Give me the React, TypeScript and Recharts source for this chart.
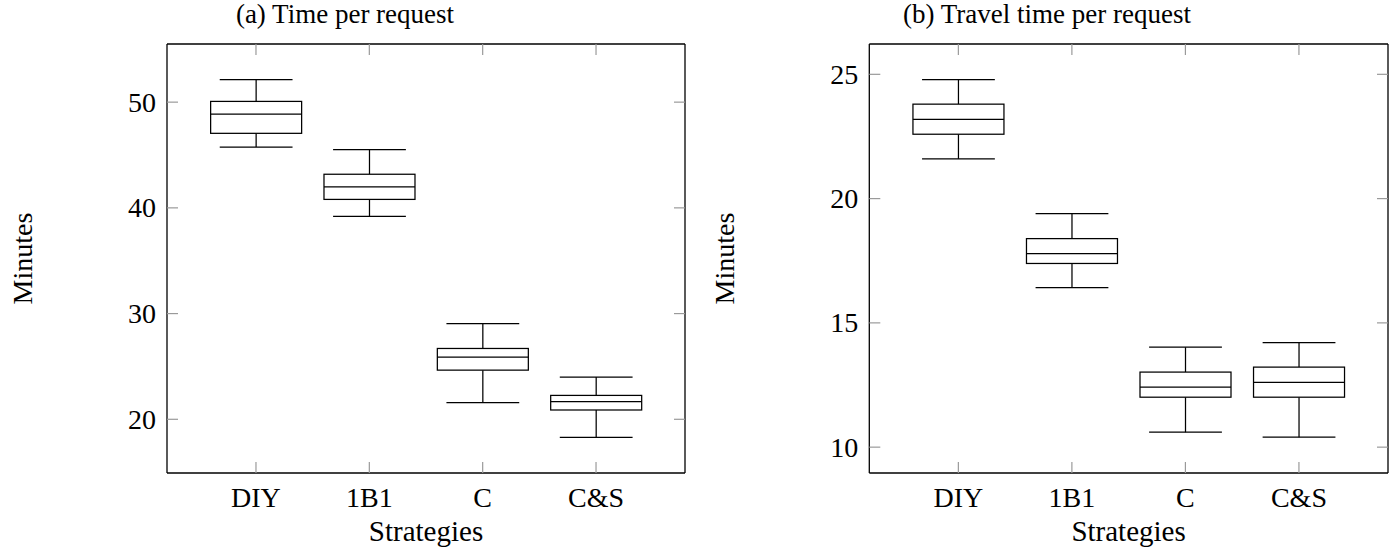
import { ComposedChart, Bar, Line, XAxis, YAxis } from 'recharts';

const strategies = ['DIY', '1B1', 'C', 'C&S'];

// (a) Time per request, minutes
const timeLow = [45.75, 39.2, 21.57, 18.3];
const timeQ1 = [47.05, 40.8, 24.65, 20.88];
const timeMedian = [48.87, 41.98, 25.88, 21.66];
const timeQ3 = [50.07, 43.18, 26.7, 22.26];
const timeHigh = [52.14, 45.5, 29.06, 23.99];
const timeTicks = [20, 30, 40, 50];

// (b) Travel time per request, minutes
const travelLow = [21.6, 16.42, 10.6, 10.4];
const travelQ1 = [22.59, 17.39, 12.01, 12.01];
const travelMedian = [23.19, 17.79, 12.41, 12.61];
const travelQ3 = [23.8, 18.39, 13.02, 13.22];
const travelHigh = [24.79, 19.4, 14.02, 14.21];
const travelTicks = [10, 15, 20, 25];

const FONT = 'Liberation Serif, DejaVu Serif, serif';
const TICK_GRAY = '#9a9a9a';
const TICK_LEN = 11;

const buildRows = (low: number[], q1: number[], med: number[], q3: number[], high: number[]) =>
  strategies.map((name, i) => ({
    name,
    low: low[i],
    q1: q1[i],
    median: med[i],
    q3: q3[i],
    high: high[i],
    box: [q1[i], q3[i]],
  }));

const timeRows = buildRows(timeLow, timeQ1, timeMedian, timeQ3, timeHigh);
const travelRows = buildRows(travelLow, travelQ1, travelMedian, travelQ3, travelHigh);

// box drawn from the bar's [q1, q3] rectangle; whiskers use the same pixel scale
function BoxShape(props: any) {
  const { x, y, width, height, payload } = props;
  const ppu = height / (payload.q3 - payload.q1);
  const py = (v: number) => y + (payload.q3 - v) * ppu;
  const cx = x + width / 2;
  const cap = (width * 0.8) / 2;
  const s = { stroke: '#000', strokeWidth: 1.25, fill: 'none' };
  return (
    <g>
      <line x1={cx} x2={cx} y1={py(payload.high)} y2={y} {...s} />
      <line x1={cx} x2={cx} y1={y + height} y2={py(payload.low)} {...s} />
      <line x1={cx - cap} x2={cx + cap} y1={py(payload.high)} y2={py(payload.high)} {...s} />
      <line x1={cx - cap} x2={cx + cap} y1={py(payload.low)} y2={py(payload.low)} {...s} />
      <rect x={x} y={y} width={width} height={height} {...s} fill="#fff" />
      <line x1={x} x2={x + width} y1={py(payload.median)} y2={py(payload.median)} {...s} />
    </g>
  );
}

const BottomTick = (p: any) => (
  <g>
    <line x1={p.x} x2={p.x} y1={p.y} y2={p.y - TICK_LEN} stroke={TICK_GRAY} strokeWidth={1.2} />
    <text x={p.x} y={p.y + 34} textAnchor="middle" style={{ fontFamily: FONT }} fontSize={28} fill="#000">
      {p.payload.value}
    </text>
  </g>
);

const TopTick = (p: any) => (
  <line x1={p.x} x2={p.x} y1={p.y} y2={p.y + TICK_LEN} stroke={TICK_GRAY} strokeWidth={1.2} />
);

const LeftTick = (p: any) => (
  <g>
    <line x1={p.x} x2={p.x + TICK_LEN} y1={p.y} y2={p.y} stroke={TICK_GRAY} strokeWidth={1.2} />
    <text x={p.x - 11} y={p.y + 9.5} textAnchor="end" style={{ fontFamily: FONT }} fontSize={28} fill="#000">
      {p.payload.value}
    </text>
  </g>
);

const RightTick = (p: any) => (
  <line x1={p.x} x2={p.x - TICK_LEN} y1={p.y} y2={p.y} stroke={TICK_GRAY} strokeWidth={1.2} />
);

const axisLine = { stroke: '#000', strokeWidth: 1.3 };

function BoxPlot({ rows, domain, ticks, yWidth, rightMargin }: any) {
  return (
    <ComposedChart
      width={700}
      height={551}
      data={rows}
      margin={{ top: 43, right: rightMargin, bottom: 0, left: 0 }}
      barCategoryGap="10%"
    >
      <XAxis
        xAxisId="b"
        dataKey="name"
        type="category"
        orientation="bottom"
        height={78}
        padding={{ left: 32.3, right: 32.3 }}
        interval={0}
        tickSize={0}
        tickMargin={0}
        tickLine={false}
        axisLine={axisLine}
        tick={BottomTick}
      />
      <XAxis
        xAxisId="t"
        dataKey="name"
        type="category"
        orientation="top"
        height={1}
        padding={{ left: 32.3, right: 32.3 }}
        interval={0}
        tickSize={0}
        tickMargin={0}
        tickLine={false}
        axisLine={axisLine}
        tick={TopTick}
      />
      <YAxis
        yAxisId="l"
        type="number"
        domain={domain}
        ticks={ticks}
        allowDataOverflow
        width={yWidth}
        interval={0}
        tickSize={0}
        tickMargin={0}
        tickLine={false}
        axisLine={axisLine}
        tick={LeftTick}
      />
      <YAxis
        yAxisId="r"
        orientation="right"
        type="number"
        domain={domain}
        ticks={ticks}
        allowDataOverflow
        width={1}
        interval={0}
        tickSize={0}
        tickMargin={0}
        tickLine={false}
        axisLine={axisLine}
        tick={RightTick}
      />
      <Bar xAxisId="b" yAxisId="l" dataKey="box" shape={BoxShape} isAnimationActive={false} />
      <Line
        xAxisId="t"
        yAxisId="r"
        dataKey="median"
        stroke="none"
        dot={false}
        activeDot={false}
        isAnimationActive={false}
      />
    </ComposedChart>
  );
}

export default function App() {
  const txt = { style: { fontFamily: FONT }, fill: '#000' };
  return (
    <div style={{ position: 'absolute', left: 0, top: 0, width: 1400, height: 551, background: '#fff' }}>
      <div style={{ position: 'absolute', left: 0, top: 0 }}>
        <BoxPlot rows={timeRows} domain={[14.92, 55.5]} ticks={timeTicks} yWidth={167} rightMargin={14} />
      </div>
      <div style={{ position: 'absolute', left: 700, top: 0 }}>
        <BoxPlot rows={travelRows} domain={[8.96, 26.22]} ticks={travelTicks} yWidth={169.3} rightMargin={11} />
      </div>
      <svg width={1400} height={551} style={{ position: 'absolute', left: 0, top: 0, pointerEvents: 'none' }}>
        <text x={345} y={23} textAnchor="middle" fontSize={27} {...txt}>(a) Time per request</text>
        <text x={1047} y={23} textAnchor="middle" fontSize={27} {...txt}>(b) Travel time per request</text>
        <text x={32} y={258.5} textAnchor="middle" fontSize={28} transform="rotate(-90 32 258.5)" {...txt}>Minutes</text>
        <text x={734} y={258.5} textAnchor="middle" fontSize={28} transform="rotate(-90 734 258.5)" {...txt}>Minutes</text>
        <text x={426} y={541} textAnchor="middle" fontSize={29} {...txt}>Strategies</text>
        <text x={1128.6} y={541} textAnchor="middle" fontSize={29} {...txt}>Strategies</text>
      </svg>
    </div>
  );
}
